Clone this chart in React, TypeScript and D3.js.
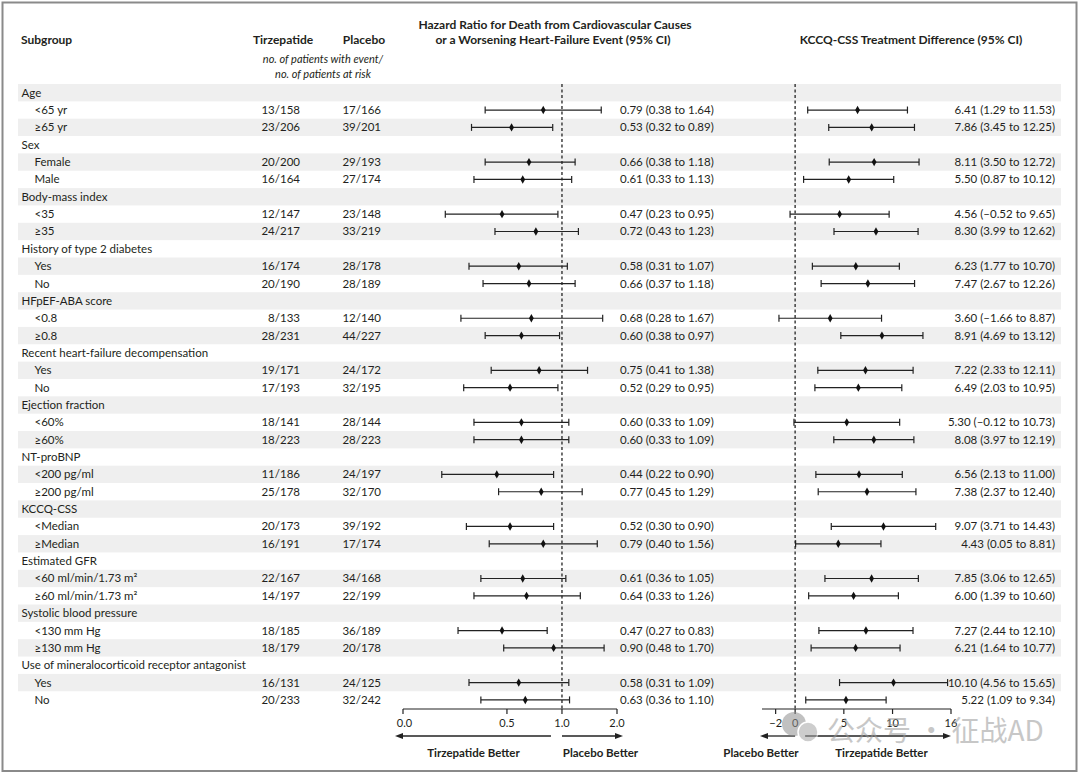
import React from "react";
import * as d3 from "d3";

// ---------- Data ----------
const SUBGROUPS: string[] = [
  "Age", "<65 yr", "≥65 yr",
  "Sex", "Female", "Male",
  "Body-mass index", "<35", "≥35",
  "History of type 2 diabetes", "Yes", "No",
  "HFpEF-ABA score", "<0.8", "≥0.8",
  "Recent heart-failure decompensation", "Yes", "No",
  "Ejection fraction", "<60%", "≥60%",
  "NT-proBNP", "<200 pg/ml", "≥200 pg/ml",
  "KCCQ-CSS", "<Median", "≥Median",
  "Estimated GFR", "<60 ml/min/1.73 m²", "≥60 ml/min/1.73 m²",
  "Systolic blood pressure", "<130 mm Hg", "≥130 mm Hg",
  "Use of mineralocorticoid receptor antagonist", "Yes", "No",
];
const IS_HEADER: boolean[] = SUBGROUPS.map((_, i) => i % 3 === 0);

const TIRZ_COUNTS: (string | null)[] = [
  null, "13/158", "23/206", null, "20/200", "16/164", null, "12/147", "24/217",
  null, "16/174", "20/190", null, "8/133", "28/231", null, "19/171", "17/193",
  null, "18/141", "18/223", null, "11/186", "25/178", null, "20/173", "16/191",
  null, "22/167", "14/197", null, "18/185", "18/179", null, "16/131", "20/233",
];
const PLACEBO_COUNTS: (string | null)[] = [
  null, "17/166", "39/201", null, "29/193", "27/174", null, "23/148", "33/219",
  null, "28/178", "28/189", null, "12/140", "44/227", null, "24/172", "32/195",
  null, "28/144", "28/223", null, "24/197", "32/170", null, "39/192", "17/174",
  null, "34/168", "22/199", null, "36/189", "20/178", null, "24/125", "32/242",
];

const HR_EST: (number | null)[] = [
  null, 0.79, 0.53, null, 0.66, 0.61, null, 0.47, 0.72, null, 0.58, 0.66,
  null, 0.68, 0.60, null, 0.75, 0.52, null, 0.60, 0.60, null, 0.44, 0.77,
  null, 0.52, 0.79, null, 0.61, 0.64, null, 0.47, 0.90, null, 0.58, 0.63,
];
const HR_LO: (number | null)[] = [
  null, 0.38, 0.32, null, 0.38, 0.33, null, 0.23, 0.43, null, 0.31, 0.37,
  null, 0.28, 0.38, null, 0.41, 0.29, null, 0.33, 0.33, null, 0.22, 0.45,
  null, 0.30, 0.40, null, 0.36, 0.33, null, 0.27, 0.48, null, 0.31, 0.36,
];
const HR_HI: (number | null)[] = [
  null, 1.64, 0.89, null, 1.18, 1.13, null, 0.95, 1.23, null, 1.07, 1.18,
  null, 1.67, 0.97, null, 1.38, 0.95, null, 1.09, 1.09, null, 0.90, 1.29,
  null, 0.90, 1.56, null, 1.05, 1.26, null, 0.83, 1.70, null, 1.09, 1.10,
];

const KCCQ_EST: (number | null)[] = [
  null, 6.41, 7.86, null, 8.11, 5.50, null, 4.56, 8.30, null, 6.23, 7.47,
  null, 3.60, 8.91, null, 7.22, 6.49, null, 5.30, 8.08, null, 6.56, 7.38,
  null, 9.07, 4.43, null, 7.85, 6.00, null, 7.27, 6.21, null, 10.10, 5.22,
];
const KCCQ_LO: (number | null)[] = [
  null, 1.29, 3.45, null, 3.50, 0.87, null, -0.52, 3.99, null, 1.77, 2.67,
  null, -1.66, 4.69, null, 2.33, 2.03, null, -0.12, 3.97, null, 2.13, 2.37,
  null, 3.71, 0.05, null, 3.06, 1.39, null, 2.44, 1.64, null, 4.56, 1.09,
];
const KCCQ_HI: (number | null)[] = [
  null, 11.53, 12.25, null, 12.72, 10.12, null, 9.65, 12.62, null, 10.70, 12.26,
  null, 8.87, 13.12, null, 12.11, 10.95, null, 10.73, 12.19, null, 11.00, 12.40,
  null, 14.43, 8.81, null, 12.65, 10.60, null, 12.10, 10.77, null, 15.65, 9.34,
];

const HR_TICKS: number[] = [0.135, 0.5, 1, 2];
const HR_TICK_LABELS: string[] = ["0.0", "0.5", "1.0", "2.0"];
const KCCQ_TICKS: number[] = [-2, 0, 5, 10, 16];
const KCCQ_TICK_LABELS: string[] = ["−2", "0", "5", "10", "16"];

// ---------- Layout ----------
const W = 1080;
const H = 775;
const FONT = "Lato, 'Open Sans', sans-serif";
const TXT = "#231f20";
const ROW_TOP = 84;
const ROW_H = 17.35;
const AXIS_Y = 709;

const fmt = (v: number) => v.toFixed(2).replace("-", "–");

export default function App() {
  const n = SUBGROUPS.length;
  const y = d3
    .scaleBand<number>()
    .domain(d3.range(n))
    .range([ROW_TOP, ROW_TOP + n * ROW_H])
    .paddingInner(0);
  const cy = (i: number) => (y(i) as number) + y.bandwidth() / 2;

  const hrX = d3.scaleLog().domain([0.135, 2]).range([403, 617]);
  const kX = d3.scaleLinear().domain([-3.4, 16]).range([762, 951]);

  const ciMark = (
    key: string,
    i: number,
    sx: (v: number) => number,
    est: number,
    lo: number,
    hi: number
  ) => {
    const yy = cy(i);
    const xe = sx(est);
    return (
      <g key={key} stroke="#222" strokeWidth={1.2}>
        <line x1={sx(lo)} x2={sx(hi)} y1={yy} y2={yy} />
        <line x1={sx(lo)} x2={sx(lo)} y1={yy - 3.5} y2={yy + 3.5} />
        <line x1={sx(hi)} x2={sx(hi)} y1={yy - 3.5} y2={yy + 3.5} />
        <path
          d={`M${xe},${yy - 4.2}L${xe + 2.4},${yy}L${xe},${yy + 4.2}L${xe - 2.4},${yy}Z`}
          fill="#111"
          stroke="none"
        />
      </g>
    );
  };

  const arrow = (x1: number, x2: number, yy: number, key: string) => {
    const dir = x2 > x1 ? 1 : -1;
    return (
      <g key={key}>
        <line x1={x1} x2={x2 - dir * 6} y1={yy} y2={yy} stroke="#222" strokeWidth={1.3} />
        <path
          d={`M${x2},${yy}L${x2 - dir * 8},${yy - 3}L${x2 - dir * 8},${yy + 3}Z`}
          fill="#222"
        />
      </g>
    );
  };

  return (
    <svg
      width={W}
      height={H}
      style={{ position: "absolute", left: 0, top: 0, background: "#fff" }}
      fontFamily={FONT}
    >
      <rect x={0} y={0} width={W} height={H} fill="#fff" />
      <rect x={2.5} y={2.5} width={1074} height={768.5} fill="none" stroke="#8a8a8a" strokeWidth={2} />

      {/* row shading */}
      {d3.range(n).map((i) =>
        i % 2 === 0 ? (
          <rect key={`bg${i}`} x={18} y={y(i)} width={1043} height={y.bandwidth()} fill="#efefef" />
        ) : null
      )}

      {/* headers */}
      <g fill={TXT} fontWeight={700} fontSize={12}>
        <text x={21} y={44}>Subgroup</text>
        <text x={283} y={44} textAnchor="middle">Tirzepatide</text>
        <text x={364} y={44} textAnchor="middle">Placebo</text>
        <text x={555} y={29} textAnchor="middle">Hazard Ratio for Death from Cardiovascular Causes</text>
        <text x={553} y={44} textAnchor="middle">or a Worsening Heart-Failure Event (95% CI)</text>
        <text x={911} y={44} textAnchor="middle">KCCQ-CSS Treatment Difference (95% CI)</text>
      </g>
      <g fill={TXT} fontStyle="italic" fontSize={11}>
        <text x={323} y={63} textAnchor="middle">no. of patients with event/</text>
        <text x={323} y={78} textAnchor="middle">no. of patients at risk</text>
      </g>

      {/* reference lines */}
      <line x1={hrX(1)} x2={hrX(1)} y1={ROW_TOP} y2={AXIS_Y} stroke="#333" strokeWidth={1.4} strokeDasharray="3,2.5" />
      <line x1={kX(0)} x2={kX(0)} y1={ROW_TOP} y2={AXIS_Y} stroke="#333" strokeWidth={1.4} strokeDasharray="3,2.5" />

      {/* rows */}
      <g fill={TXT} fontSize={11.5}>
        {SUBGROUPS.map((s, i) => (
          <text key={`lab${i}`} x={IS_HEADER[i] ? 21.5 : 34.5} y={cy(i) + 4}>
            {s}
          </text>
        ))}
        {TIRZ_COUNTS.map((c, i) =>
          c ? (
            <text key={`tc${i}`} x={300} y={cy(i) + 4} textAnchor="end">{c}</text>
          ) : null
        )}
        {PLACEBO_COUNTS.map((c, i) =>
          c ? (
            <text key={`pc${i}`} x={381} y={cy(i) + 4} textAnchor="end">{c}</text>
          ) : null
        )}
        {HR_EST.map((e, i) =>
          e !== null ? (
            <text key={`ht${i}`} x={620} y={cy(i) + 4}>
              {`${fmt(e)} (${fmt(HR_LO[i] as number)} to ${fmt(HR_HI[i] as number)})`}
            </text>
          ) : null
        )}
        {KCCQ_EST.map((e, i) =>
          e !== null ? (
            <text key={`kt${i}`} x={1055} y={cy(i) + 4} textAnchor="end">
              {`${fmt(e)} (${fmt(KCCQ_LO[i] as number)} to ${fmt(KCCQ_HI[i] as number)})`}
            </text>
          ) : null
        )}
      </g>

      {HR_EST.map((e, i) =>
        e !== null ? ciMark(`hm${i}`, i, hrX, e, HR_LO[i] as number, HR_HI[i] as number) : null
      )}
      {KCCQ_EST.map((e, i) =>
        e !== null ? ciMark(`km${i}`, i, kX, e, KCCQ_LO[i] as number, KCCQ_HI[i] as number) : null
      )}

      {/* HR axis */}
      <g stroke="#222" strokeWidth={1.2}>
        <line x1={hrX.range()[0]} x2={hrX.range()[1]} y1={AXIS_Y} y2={AXIS_Y} />
        {HR_TICKS.map((t, i) => (
          <line key={`hrt${i}`} x1={hrX(t)} x2={hrX(t)} y1={AXIS_Y} y2={AXIS_Y + 5} />
        ))}
      </g>
      <g fill={TXT} fontSize={11} textAnchor="middle">
        {HR_TICKS.map((t, i) => (
          <text key={`hrl${i}`} x={hrX(t) + (i === 0 ? 1.5 : 0)} y={727}>{HR_TICK_LABELS[i]}</text>
        ))}
      </g>

      {/* KCCQ axis */}
      <g stroke="#222" strokeWidth={1.2}>
        <line x1={kX.range()[0]} x2={kX.range()[1]} y1={AXIS_Y} y2={AXIS_Y} />
        {KCCQ_TICKS.map((t, i) => (
          <line key={`kt${i}`} x1={kX(t)} x2={kX(t)} y1={AXIS_Y} y2={AXIS_Y + 5} />
        ))}
      </g>
      <g fill={TXT} fontSize={11} textAnchor="middle">
        {KCCQ_TICKS.map((t, i) => (
          <text key={`kl${i}`} x={kX(t)} y={727}>{KCCQ_TICK_LABELS[i]}</text>
        ))}
      </g>

      {/* direction arrows */}
      {arrow(hrX(1) - 11, hrX.range()[0] - 8, 736, "a1")}
      {arrow(hrX(1), hrX(2) + 6, 736, "a2")}
      {arrow(kX(0), kX.range()[0] - 2, 736, "a3")}
      {arrow(kX(0) + 10, kX(16), 736, "a4")}
      <g fill={TXT} fontWeight={700} fontSize={11.5} textAnchor="middle">
        <text x={473.5} y={756.5}>Tirzepatide Better</text>
        <text x={600.5} y={756.5}>Placebo Better</text>
        <text x={761} y={756.5}>Placebo Better</text>
        <text x={881.5} y={756.5}>Tirzepatide Better</text>
      </g>

      {/* watermark */}
      <g opacity={0.55}>
        <circle cx={794} cy={724} r={12} fill="#8f8f8f" />
        <circle cx={808} cy={732} r={10} fill="#a5a5a5" stroke="#fff" strokeWidth={1.5} />
        <text
          x={827}
          y={741}
          fontSize={28}
          fill="#9a9a9a"
          fontFamily="'Noto Sans CJK SC', sans-serif"
        >
          公众号 · 征战AD
        </text>
      </g>
    </svg>
  );
}
